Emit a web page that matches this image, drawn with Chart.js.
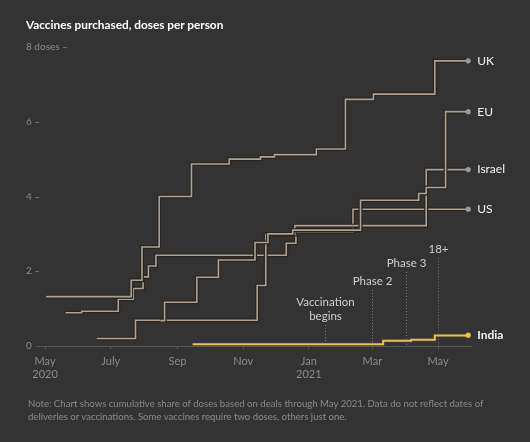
<!DOCTYPE html>
<html><head><meta charset="utf-8">
<script src="https://cdn.jsdelivr.net/npm/chart.js@4/dist/chart.umd.min.js"></script>
<style>
html,body{margin:0;padding:0;background:#333;}
#wrap{position:relative;width:530px;height:442px;background:#333;overflow:hidden;}
#title{position:absolute;left:26px;top:17px;font:bold 11.8px Lato, sans-serif;color:#fff;white-space:nowrap;}
#note{position:absolute;left:28px;top:398px;width:490px;font:9.6px Lato, sans-serif;color:#8a8a8a;line-height:12.5px;}
canvas{position:absolute;left:0;top:0;}
</style></head><body>
<div id="wrap"><canvas id="c" width="530" height="442"></canvas>
<div id="title">Vaccines purchased, doses per person</div>
<div id="note">Note: Chart shows cumulative share of doses based on deals through May 2021. Data do not reflect dates of<br>deliveries or vaccinations. Some vaccines require two doses, others just one.</div></div>
<script>
// x values are days since 1 May 2020
const xTickDays = [0, 61, 123, 184, 245, 304, 365];
const xTickLabels = [['May', '2020'], 'July', 'Sep', 'Nov', ['Jan', '2021'], 'Mar', 'May'];
const yTickValues = [0, 2, 4, 6, 8];
const yTickLabels = ['0', '2 –', '4 –', '6 –', '8 doses –'];

const seriesNames = ['India', 'UK', 'EU', 'Israel', 'US'];

const ukDays  = [1, 80, 90, 106, 136, 171, 200, 213, 252, 279, 305, 362, 393];
const ukDoses = [1.32, 1.76, 2.65, 4.0, 4.87, 5.0, 5.06, 5.12, 5.27, 6.6, 6.74, 7.63, 7.63];

const euDays  = [107, 111, 141, 161, 195, 207, 230, 293, 347, 354, 372, 393];
const euDoses = [0.68, 1.17, 1.84, 2.3, 2.77, 3.0, 3.1, 3.9, 4.08, 4.24, 6.27, 6.27];

const israelDays  = [48, 84, 197, 205, 232, 354, 393];
const israelDoses = [0.2, 0.69, 1.62, 2.98, 3.22, 4.72, 4.72];

const usDays  = [19, 34, 68, 82, 91, 96, 103, 224, 233, 286, 393];
const usDoses = [0.89, 0.93, 1.25, 1.54, 1.85, 2.14, 2.43, 2.75, 3.06, 3.66, 3.66];

const indiaDays  = [137, 314, 340, 362, 393];
const indiaDoses = [0.05, 0.14, 0.17, 0.28, 0.29];

const eventDays = [260, 304, 335, 365];
const eventLabels = [['Vaccination', 'begins'], ['Phase 2'], ['Phase 3'], ['18+']];
const eventTops = [0.56, 1.5, 1.98, 2.35];

const seriesDays = [indiaDays, ukDays, euDays, israelDays, usDays];
const seriesDoses = [indiaDoses, ukDoses, euDoses, israelDoses, usDoses];

const LINE = '#aca194';
const YELLOW = '#e8c63c';

function pts(days, vals) { return days.map((d, i) => ({ x: d, y: vals[i] })); }

const datasets = [];
seriesNames.forEach((name, i) => {
  const data = pts(seriesDays[i], seriesDoses[i]);
  const isIndia = name === 'India';
  const n = data.length;
  datasets.push({
    label: name, data, stepped: 'before', order: 2 * i,
    borderColor: isIndia ? YELLOW : LINE, borderWidth: isIndia ? 2 : 1.6,
    pointRadius: c => c.dataIndex === n - 1 ? 2.6 : 0,
    pointBackgroundColor: isIndia ? YELLOW : '#9a9a9a', pointBorderWidth: 0,
    fill: false, endLabel: true, bold: isIndia
  });
  datasets.push({
    label: name + ' outline', data, stepped: 'before', order: 2 * i + 1,
    borderColor: isIndia ? '#3a3450' : '#2a2520', borderWidth: isIndia ? 4.5 : 4,
    pointRadius: 0, fill: false
  });
});

const annotationPlugin = {
  id: 'events',
  beforeDatasetsDraw(chart) {
    const { ctx, scales: { x, y } } = chart;
    ctx.save();
    eventDays.forEach((d, i) => {
      const px = Math.round(x.getPixelForValue(d)) + 0.5;
      const top = y.getPixelForValue(eventTops[i]);
      ctx.strokeStyle = '#7a7a7a';
      ctx.lineWidth = 1;
      ctx.setLineDash([1, 2]);
      ctx.beginPath(); ctx.moveTo(px, top); ctx.lineTo(px, y.getPixelForValue(0)); ctx.stroke();
      ctx.setLineDash([]);
      ctx.fillStyle = '#cfcfcf';
      ctx.font = '11.5px Lato, sans-serif';
      ctx.textAlign = 'center'; ctx.textBaseline = 'middle';
      const lines = eventLabels[i];
      lines.forEach((t, k) => {
        ctx.fillText(t, px, top - 9 - (lines.length - 1 - k) * 13.5);
      });
    });
    ctx.restore();
  },
  afterDatasetsDraw(chart) {
    const { ctx } = chart;
    ctx.save();
    chart.data.datasets.forEach((ds, i) => {
      if (!ds.endLabel) return;
      const meta = chart.getDatasetMeta(i);
      const el = meta.data[meta.data.length - 1];
      ctx.fillStyle = '#f2f2f2';
      ctx.font = (ds.bold ? 'bold ' : '') + '12px Lato, sans-serif';
      ctx.textAlign = 'left'; ctx.textBaseline = 'middle';
      ctx.fillText(ds.label, el.x + 9, el.y);
    });
    ctx.restore();
  }
};

new Chart(document.getElementById('c'), {
  type: 'line',
  data: { datasets },
  options: {
    responsive: false, animation: false, devicePixelRatio: 1,
    layout: { padding: { left: 36, right: 59, top: 47, bottom: 56 } },
    plugins: { legend: { display: false }, tooltip: { enabled: false } },
    scales: {
      x: {
        type: 'linear', min: -8.4, max: 395.6,
        afterBuildTicks: s => { s.ticks = xTickDays.map(v => ({ value: v })); },
        afterFit: s => { s.height = 40; },
        ticks: {
          autoSkip: false, maxRotation: 0, color: '#8a8a8a', padding: 6,
          font: { family: 'Lato, sans-serif', size: 11 },
          callback: (v) => { const i = xTickDays.indexOf(v); return i >= 0 ? xTickLabels[i] : ''; }
        },
        grid: { drawOnChartArea: false, drawTicks: true, tickLength: 3, color: '#5a5a5a' },
        border: { display: true, color: '#555', width: 1 }
      },
      y: {
        min: 0, max: 8,
        afterBuildTicks: s => { s.ticks = yTickValues.map(v => ({ value: v })); },
        afterFit: s => { s.width = 0; },
        ticks: {
          color: '#8a8a8a', mirror: true, crossAlign: 'near', padding: -10,
          font: { family: 'Lato, sans-serif', size: 10 },
          callback: (v) => { const i = yTickValues.indexOf(v); return i >= 0 ? yTickLabels[i] : ''; }
        },
        grid: { display: false, drawTicks: false },
        border: { display: false }
      }
    }
  },
  plugins: [annotationPlugin]
});
</script>
</body></html>
